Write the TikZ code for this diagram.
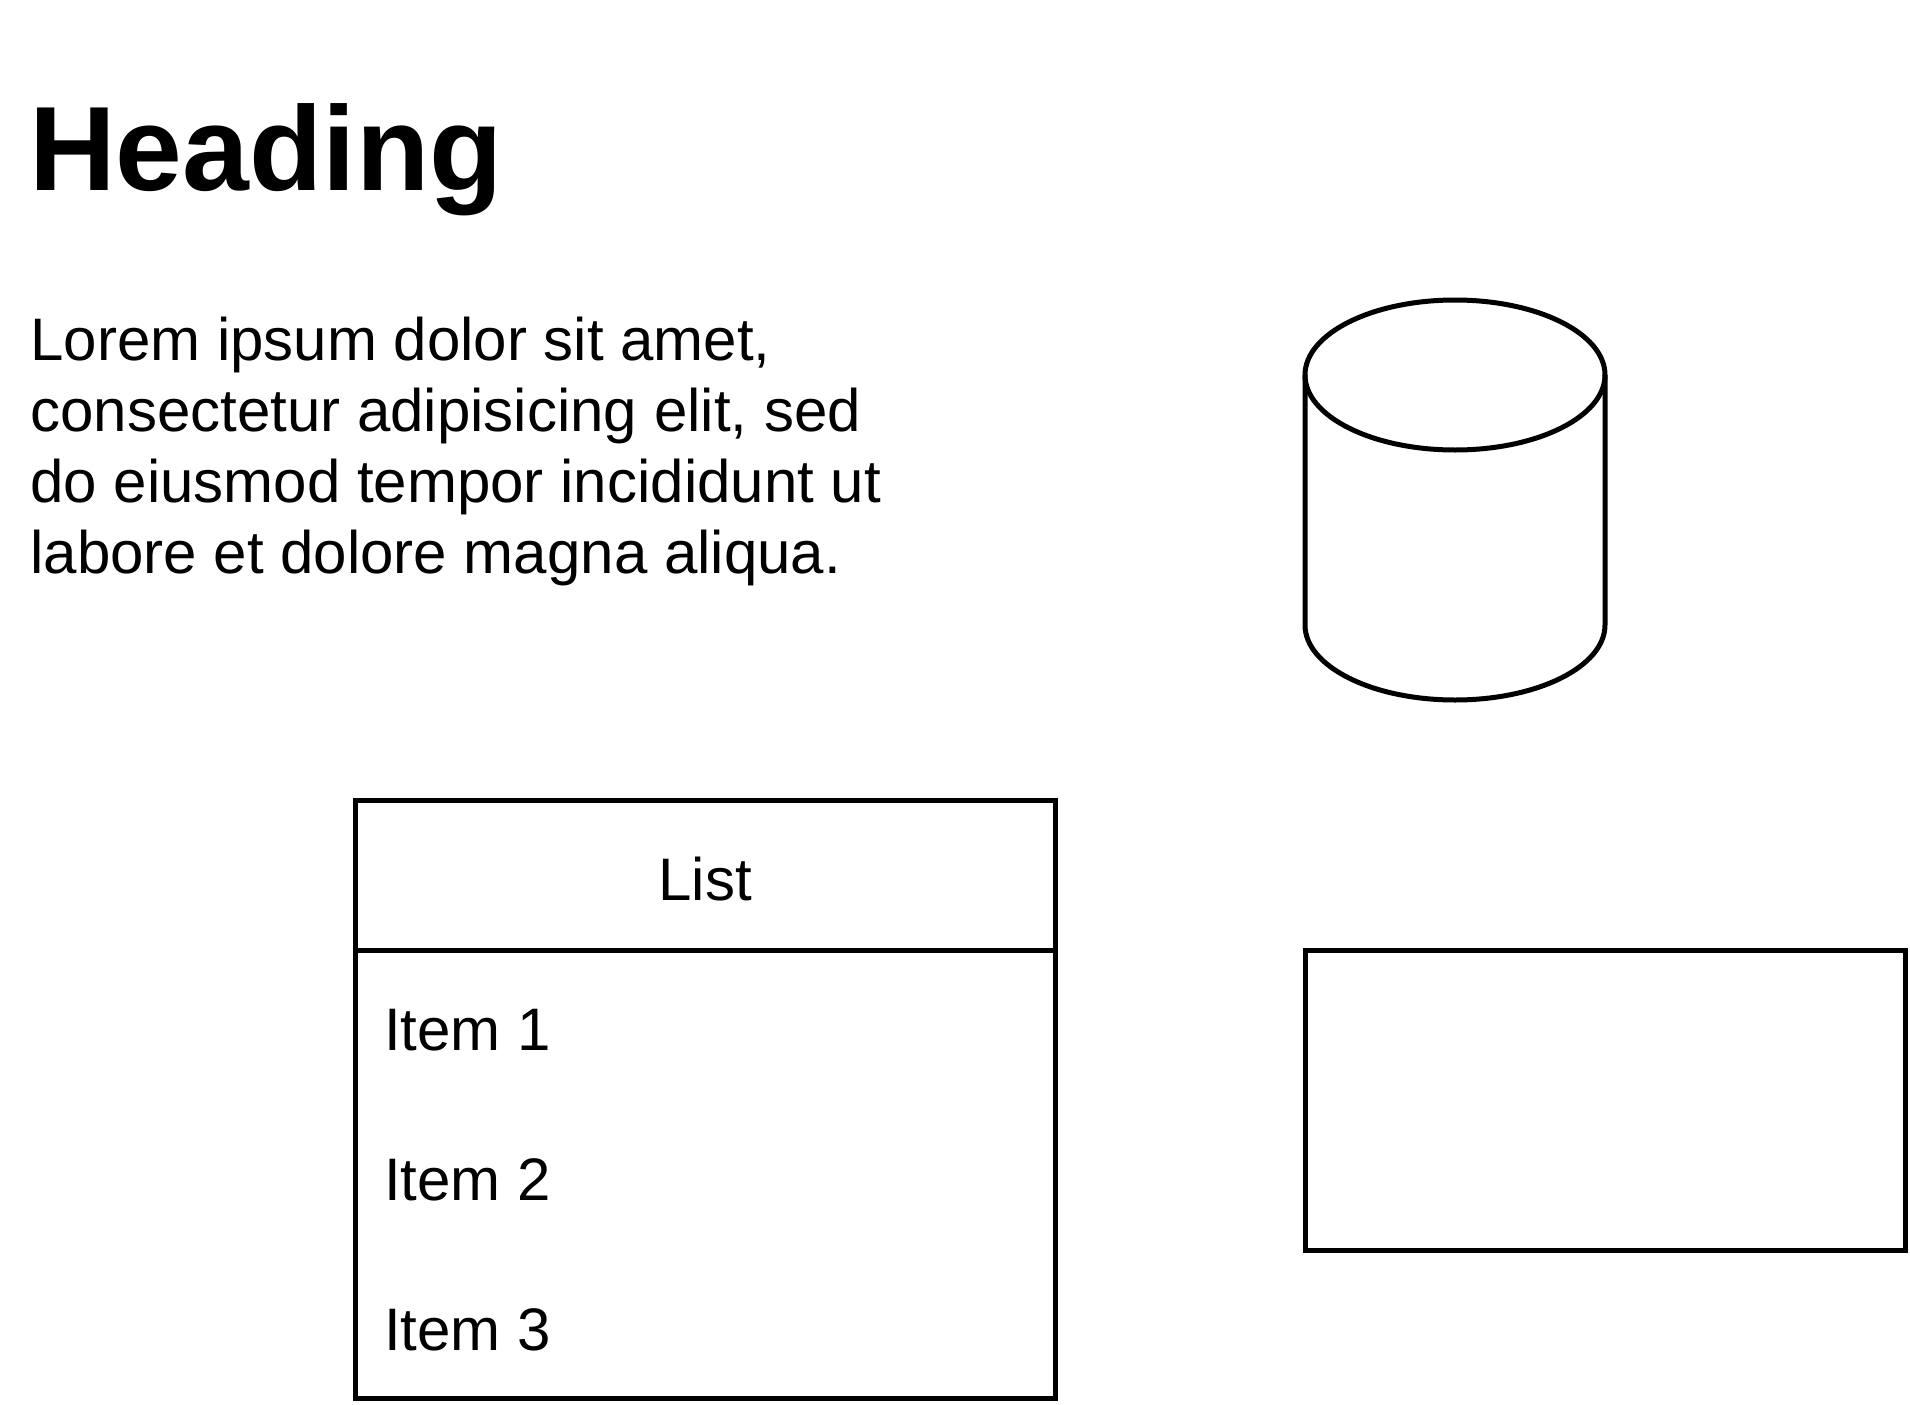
\documentclass[tikz,border=0pt]{standalone}
\usepackage{fontspec}
\setmainfont{Liberation Sans}
\tikzset{
  outline/.style={line width=2pt},
  body/.style={anchor=base west, inner sep=0pt, font=\fontsize{24}{28.8}\selectfont},
  title/.style={anchor=base west, inner sep=0pt, font=\fontsize{48}{57.6}\selectfont\bfseries}
}
\begin{document}
\begin{tikzpicture}[x=1pt,y=-1pt]
\useasboundingbox (0,0) rectangle (764,562);
\node [title] (heading) at (11.5,76.3) {Heading};
\foreach \txt [count=\i] in {{Lorem ipsum dolor sit amet,},{consectetur adipisicing elit, sed},{do eiusmod tempor incididunt ut},{labore et dolore magna aliqua.}}
  \node [body] (lorem\i) at (12,{144.2+28.45*(\i-1)}) {\txt};
% cylinder
\draw [outline] (522,150) -- (522,250) arc [start angle=180, end angle=0, x radius=60, y radius=30] -- (642,150);
\draw [outline] (582,150) ellipse [x radius=60, y radius=30];
% list
\draw [outline] (142.1,320.3) rectangle (422.1,559.5);
\draw [outline] (142.1,380.1) -- (422.1,380.1);
\node [body, anchor=base] (list) at (282.1,360) {List};
\foreach \i in {1,2,3}
  \node [body] (item\i) at (153.5,{360+60*\i}) {Item \i};
% empty box
\draw [outline] (522.3,380.1) rectangle (762.1,500);
\end{tikzpicture}
\end{document}
